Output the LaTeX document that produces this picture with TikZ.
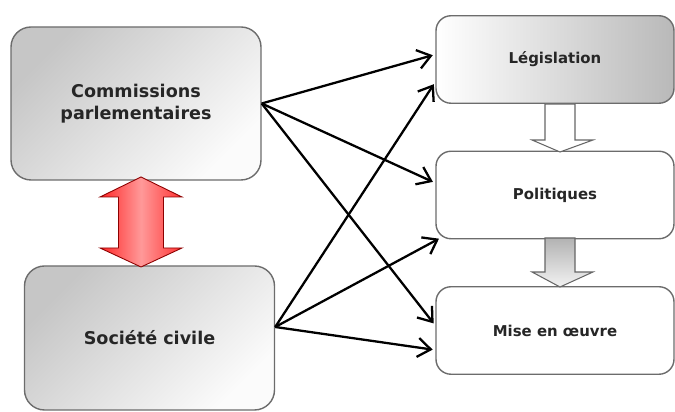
\documentclass[tikz,border=0pt]{standalone}
\usepackage{fontspec}
\setmainfont{DejaVu Sans}
\usetikzlibrary{arrows.meta,positioning}

\begin{document}
\begin{tikzpicture}[
    actor/.style={draw=gray!85!black,line width=0.8pt,rounded corners=0.4cm,minimum width=5cm,align=center,font=\bfseries\fontsize{10}{12.5}\selectfont,text=black!85},
    outcome/.style={draw=gray!85!black,line width=0.8pt,rounded corners=0.3cm,minimum width=4.76cm,minimum height=1.75cm,font=\bfseries\fontsize{8.5}{10}\selectfont,text=black!85},
    link/.style={line width=1.3pt,shorten >=1.5pt,-{Straight Barb[length=2.6mm,width=3.8mm]}}
]
    \useasboundingbox (0,0) rectangle (13.5,8.24);

    % Actors on the left
    \node[actor,minimum height=3.06cm,top color=gray!45,bottom color=gray!3,shading angle=45] (com) at (2.72,6.17) {Commissions\\parlementaires};
    \node[actor,minimum height=2.88cm,top color=gray!45,bottom color=gray!3,shading angle=45] (soc) at (2.99,1.48) {Soci\'et\'e civile};

    % Outcomes on the right
    \node[outcome,left color=white,right color=gray!55] (leg) at (11.1,7.05) {L\'egislation};
    \node[outcome,fill=white] (pol) at (11.1,4.34) {Politiques};
    \node[outcome,fill=white] (mise) at (11.1,1.63) {Mise en \oe uvre};

    % Two-way exchange
    \shade[draw=red!55!black,line width=0.5pt,left color=red!85,right color=red!80,middle color=red!40]
        (2.82,4.7) -- (3.64,4.3) -- (3.27,4.3) -- (3.27,3.28) -- (3.64,3.28) -- (2.82,2.9)
        -- (2.0,3.28) -- (2.37,3.28) -- (2.37,4.3) -- (2.0,4.3) -- cycle;

    % Block arrows between outcomes
    \draw[gray!80!black,line width=0.6pt,fill=white]
        (10.9,6.16) -- (11.5,6.16) -- (11.5,5.44) -- (11.86,5.44) -- (11.2,5.2)
        -- (10.64,5.44) -- (10.9,5.44) -- cycle;
    \shade[draw=gray!80!black,line width=0.6pt,top color=gray!60,bottom color=gray!10]
        (10.9,3.48) -- (11.5,3.48) -- (11.5,2.8) -- (11.86,2.8) -- (11.2,2.5)
        -- (10.64,2.8) -- (10.9,2.8) -- cycle;

    % Influence arrows
    \draw[link] (com.east) -- ([yshift=0.1cm]leg.west);
    \draw[link] (com.east) -- ([yshift=0.24cm]pol.west);
    \draw[link] (com.east) -- ([yshift=0.1cm]mise.west);
    \coordinate (socout) at ([yshift=0.22cm]soc.east);
    \draw[link] (socout) -- ([yshift=-0.45cm]leg.west);
    \draw[link] (socout) -- ([xshift=0.12cm,yshift=0.04cm]pol.south west);
    \draw[link] (socout) -- ([yshift=-0.39cm]mise.west);
\end{tikzpicture}
\end{document}
